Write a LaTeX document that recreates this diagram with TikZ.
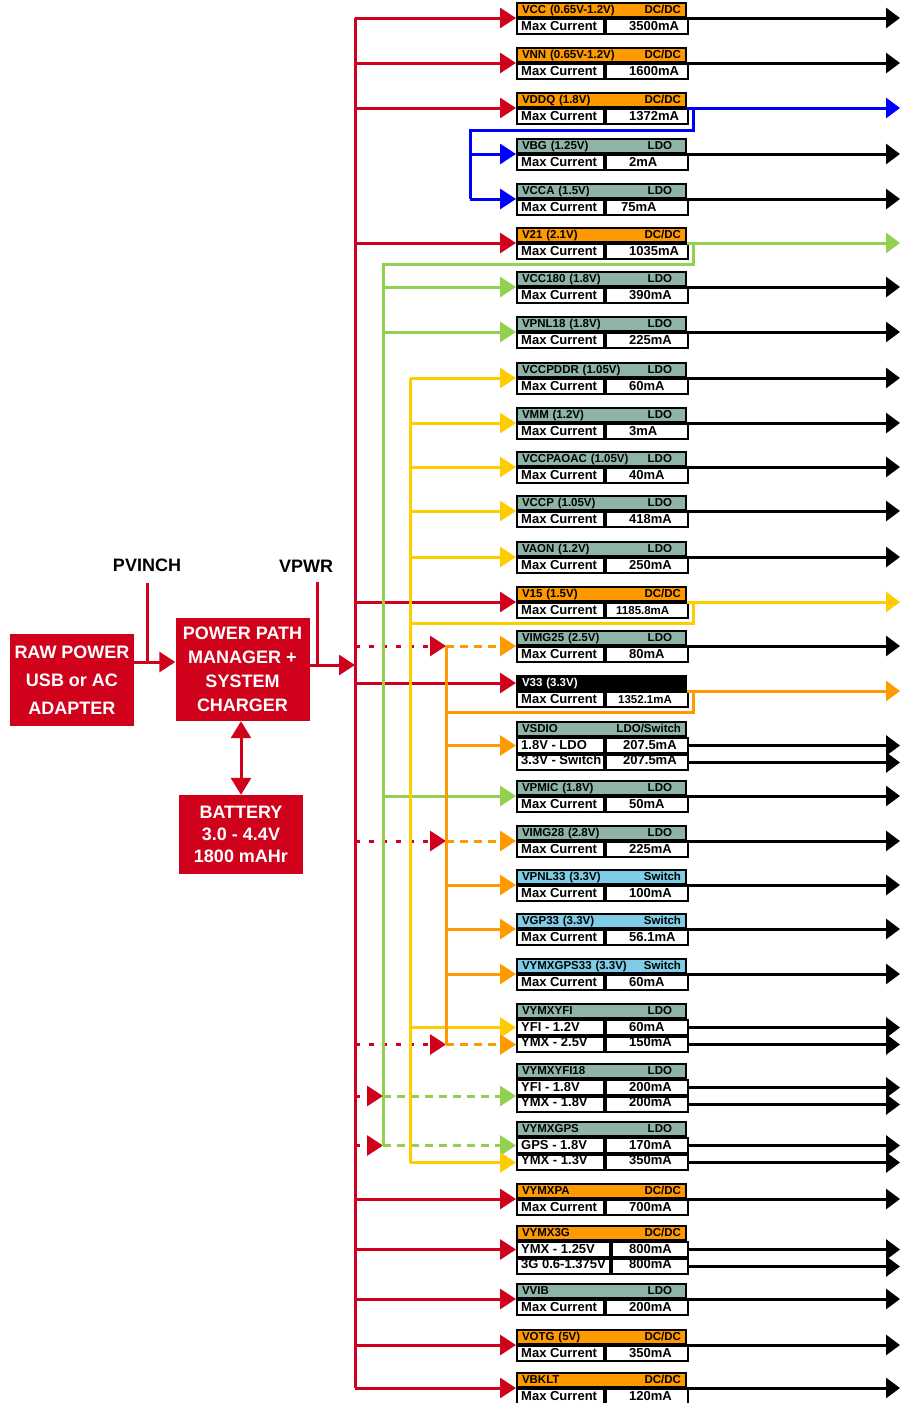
\documentclass[tikz,border=0pt]{standalone}
\usepackage{fontspec}
\setmainfont{Liberation Sans}
\usetikzlibrary{arrows.meta,backgrounds}
\definecolor{pwrred}{HTML}{D0021B}
\definecolor{dcorange}{HTML}{FF9900}
\definecolor{ldogray}{HTML}{8EB4A9}
\definecolor{swblue}{HTML}{7FCCE6}
\definecolor{ink}{HTML}{000000}
\definecolor{railblue}{HTML}{0000FF}
\definecolor{railgreen}{HTML}{92D050}
\definecolor{railyellow}{HTML}{FFCC00}
\definecolor{railorange}{HTML}{FF9900}
\newcommand{\ldotag}{LDO\hspace{9pt}\mbox{}}
\newcommand{\tightval}[1]{{\fontsize{11.5}{13}\selectfont #1}}

\begin{document}
\begin{tikzpicture}[
  x=1pt,y=-1pt,
  hdr/.style={draw=ink,line width=2pt,anchor=south west,text width=159pt,inner xsep=5pt,inner ysep=0pt,
              minimum height=14pt,align=left,text height=8.8pt,text depth=2pt,
              font=\fontsize{11.5}{12}\selectfont\bfseries},
  cell/.style={draw=ink,line width=2pt,fill=white,anchor=north west,inner sep=0pt,minimum height=15pt},
  val/.style={anchor=west,inner sep=0pt,text height=9.4pt,text depth=0pt,
              font=\fontsize{13}{14}\selectfont\bfseries},
  pwr/.style={fill=pwrred,text=white,align=center,inner sep=0pt},
  tag/.style={text=ink,font=\fontsize{18}{20}\selectfont\bfseries},
  rail/.style={line width=3pt},
  inarrow/.style={rail,-{Triangle[length=16pt,width=20pt]}},
  outarrow/.style={rail,-{Triangle[length=14pt,width=20pt]}},
  raildot/.style={dash pattern=on 5pt off 8.5pt},
  raildash/.style={dash pattern=on 7.5pt off 6.5pt},
]
  \useasboundingbox (0,0) rectangle (901,1403);

  \node[pwr,minimum width=124pt,minimum height=92pt,font=\fontsize{18}{28}\selectfont\bfseries] (raw) at (72,680) {RAW POWER\\USB or AC\\ADAPTER};
  \node[pwr,minimum width=134pt,minimum height=103pt,font=\fontsize{18}{24}\selectfont\bfseries] (ppm) at (242.5,669.5) {POWER PATH\\MANAGER +\\SYSTEM\\CHARGER};
  \node[pwr,minimum width=124pt,minimum height=79pt,font=\fontsize{18}{22}\selectfont\bfseries] (bat) at (241,834.5) {BATTERY\\3.0 - 4.4V\\1800 mAHr};
  \node[tag] (pvinch) at (147,565) {PVINCH};
  \node[tag] (vpwr) at (306,566) {VPWR};

  \coordinate (pvin) at (147,662);
  \coordinate (vpin) at (317,665);
  \coordinate (bus) at (355,0);
  \coordinate (rim) at (900,0);
  \coordinate (knee) at (693,0);
  \coordinate (bk) at (470,130);
  \coordinate (gk) at (383,264);
  \coordinate (yk) at (410,623);
  \coordinate (ok) at (446,712);

  \foreach \nm/\yy/\hf/\lbl/\kind/\cur/\vx/\oc in {
    vcc/18/dcorange/{VCC (0.65V-1.2V)}/{DC/DC}/3500mA/629/ink,
    vnn/63/dcorange/{VNN (0.65V-1.2V)}/{DC/DC}/1600mA/629/ink,
    vddq/108/dcorange/{VDDQ (1.8V)}/{DC/DC}/1372mA/629/railblue,
    vbg/154/ldogray/{VBG (1.25V)}/\ldotag/2mA/629/ink,
    vcca/199/ldogray/{VCCA (1.5V)}/\ldotag/75mA/621/ink,
    v21/243/dcorange/{V21 (2.1V)}/{DC/DC}/1035mA/629/railgreen,
    vcc180/287/ldogray/{VCC180 (1.8V)}/\ldotag/390mA/629/ink,
    vpnl18/332/ldogray/{VPNL18 (1.8V)}/\ldotag/225mA/629/ink,
    vccpddr/378/ldogray/{VCCPDDR (1.05V)}/\ldotag/60mA/629/ink,
    vmm/423/ldogray/{VMM (1.2V)}/\ldotag/3mA/629/ink,
    vccpaoac/467/ldogray/{VCCPAOAC (1.05V)}/\ldotag/40mA/629/ink,
    vccp/511/ldogray/{VCCP (1.05V)}/\ldotag/418mA/629/ink,
    vaon/557/ldogray/{VAON (1.2V)}/\ldotag/250mA/629/ink,
    v15/602/dcorange/{V15 (1.5V)}/{DC/DC}/{\tightval{1185.8mA}}/616/railyellow,
    vimg25/646/ldogray/{VIMG25 (2.5V)}/\ldotag/80mA/629/ink,
    v33/691/ink/{\color{white}V33 (3.3V)}/{}/{\tightval{1352.1mA}}/618/railorange,
    vpmic/796/ldogray/{VPMIC (1.8V)}/\ldotag/50mA/629/ink,
    vimg28/841/ldogray/{VIMG28 (2.8V)}/\ldotag/225mA/629/ink,
    vpnl33/885/swblue/{VPNL33 (3.3V)}/Switch/100mA/629/ink,
    vgp33/929/swblue/{VGP33 (3.3V)}/Switch/56.1mA/629/ink,
    vymxgps33/974/swblue/{VYMXGPS33 (3.3V)}/Switch/60mA/629/ink,
    vymxpa/1199/dcorange/VYMXPA/{DC/DC}/700mA/629/ink,
    vvib/1299/ldogray/VVIB/\ldotag/200mA/629/ink,
    votg/1345/dcorange/{VOTG (5V)}/{DC/DC}/350mA/629/ink,
    vbklt/1388/dcorange/VBKLT/{DC/DC}/120mA/629/ink}{
    \node[hdr,fill=\hf] (\nm) at (516,\yy) {\lbl\hfill\kind};
    \node[cell,minimum width=87pt] (\nm-l) at (\nm.south west) {};
    \node[cell,minimum width=82pt] (\nm-r) at (\nm-l.north east) {};
    \node[val] (\nm-t) at (521,\yy+7.5) {Max Current};
    \node[val] (\nm-v) at (\vx,\yy+7.5) {\cur};
    \draw[outarrow,color=\oc] (\nm.south east) -- (\nm.south east -| rim);
  }

  \foreach \nm/\yy/\hf/\lbl/\kind/\ra/\ca/\rb/\cb/\vx/\lw in {
    vsdio/737/ldogray/VSDIO/{LDO/Switch}/{1.8V - LDO}/207.5mA/{3.3V - Switch}/207.5mA/623/87,
    vymxyfi/1019/ldogray/VYMXYFI/\ldotag/{YFI - 1.2V}/60mA/{YMX - 2.5V}/150mA/629/87,
    vymxyfi18/1079/ldogray/VYMXYFI18/\ldotag/{YFI - 1.8V}/200mA/{YMX - 1.8V}/200mA/629/87,
    vymxgps/1137/ldogray/VYMXGPS/\ldotag/{GPS - 1.8V}/170mA/{YMX - 1.3V}/350mA/629/87,
    vymx3g/1241/dcorange/VYMX3G/{DC/DC}/{YMX - 1.25V}/800mA/{3G 0.6-1.375V}/800mA/629/93}{
    \pgfmathsetmacro\rw{169-\lw}
    \node[hdr,fill=\hf] (\nm) at (516,\yy) {\lbl\hfill\kind};
    \node[cell,minimum width=\lw pt] (\nm-a) at (\nm.south west) {};
    \node[cell,minimum width=\rw pt] (\nm-ar) at (\nm-a.north east) {};
    \node[cell,minimum width=\lw pt] (\nm-b) at (\nm-a.south west) {};
    \node[cell,minimum width=\rw pt] (\nm-br) at (\nm-b.north east) {};
    \node[val] (\nm-ta) at (521,\yy+7.5) {\ra};
    \node[val] (\nm-tb) at (521,\yy+22.5) {\rb};
    \node[val] (\nm-va) at (\vx,\yy+7.5) {\ca};
    \node[val] (\nm-vb) at (\vx,\yy+22.5) {\cb};
    \draw[outarrow] (\nm-ar.east) -- (\nm-ar.east -| rim);
    \draw[outarrow] (\nm-br.east) -- (\nm-br.east -| rim);
  }

  \begin{scope}[on background layer]
    \draw[inarrow,pwrred] (raw.east |- pvin) -- (ppm.west |- pvin);
    \draw[rail,pwrred] ([yshift=-8pt]pvinch.south) -- (pvin);
    \draw[inarrow,pwrred] (ppm.east |- vpin) -- (bus |- vpin);
    \draw[rail,pwrred] ([yshift=-6pt]vpwr.south -| vpin) -- (vpin);
    \draw[rail,pwrred,{Triangle[length=17pt,width=20pt]}-{Triangle[length=17pt,width=20pt]}] (ppm.south -| bat.north) -- (bat.north);

    \draw[rail,pwrred] (bus |- vcc.south west) -- (bus |- vbklt.south west);
    \foreach \b in {vcc,vnn,vddq,v21,v15,vymxpa,vvib,votg,vbklt}
      \draw[inarrow,pwrred] (bus |- \b.south west) -- (\b.south west);
    \draw[inarrow,pwrred] (bus |- v33.west) -- (v33.west);
    \draw[inarrow,pwrred] (bus |- vymx3g-a.west) -- (vymx3g-a.west);
    \foreach \b in {vimg25,vimg28}
      \draw[inarrow,pwrred,raildot] (bus |- \b.south west) -- (ok |- \b.south west);
    \draw[inarrow,pwrred,raildot] (bus |- vymxyfi-b.west) -- (ok |- vymxyfi-b.west);
    \draw[inarrow,pwrred,raildot] (bus |- vymxyfi18-a.south west) -- (gk |- vymxyfi18-a.south west);
    \draw[inarrow,pwrred,raildot] (bus |- vymxgps-a.west) -- (gk |- vymxgps-a.west);

    \draw[rail,railblue] (knee |- vddq.south east) |- (bk) -- (bk |- vcca.south west);
    \foreach \b in {vbg,vcca}
      \draw[inarrow,railblue] (bk |- \b.south west) -- (\b.south west);

    \draw[rail,railgreen] (knee |- v21.south east) |- (gk) -- (gk |- vymxgps-a.west);
    \foreach \b in {vcc180,vpnl18,vpmic}
      \draw[inarrow,railgreen] (gk |- \b.south west) -- (\b.south west);
    \draw[inarrow,railgreen,raildash] (gk |- vymxyfi18-a.south west) -- (vymxyfi18-a.south west);
    \draw[inarrow,railgreen,raildash] (gk |- vymxgps-a.west) -- (vymxgps-a.west);

    \draw[rail,railyellow] (knee |- v15.south east) |- (yk);
    \draw[rail,railyellow] (yk |- vccpddr.south west) -- (yk |- vymxgps-b.west);
    \foreach \b in {vccpddr,vmm,vccpaoac,vccp,vaon}
      \draw[inarrow,railyellow] (yk |- \b.south west) -- (\b.south west);
    \draw[inarrow,railyellow] (yk |- vymxyfi-a.west) -- (vymxyfi-a.west);
    \draw[inarrow,railyellow] (yk |- vymxgps-b.west) -- (vymxgps-b.west);

    \draw[rail,railorange] (knee |- v33.south east) |- (ok);
    \draw[rail,railorange] (ok |- vimg25.south west) -- (ok |- vymxyfi-b.west);
    \draw[inarrow,railorange] (ok |- vsdio-a.west) -- (vsdio-a.west);
    \foreach \b in {vpnl33,vgp33,vymxgps33}
      \draw[inarrow,railorange] (ok |- \b.south west) -- (\b.south west);
    \foreach \b in {vimg25,vimg28}
      \draw[inarrow,railorange,raildash] (ok |- \b.south west) -- (\b.south west);
    \draw[inarrow,railorange,raildash] (ok |- vymxyfi-b.west) -- (vymxyfi-b.west);
  \end{scope}
\end{tikzpicture}
\end{document}
